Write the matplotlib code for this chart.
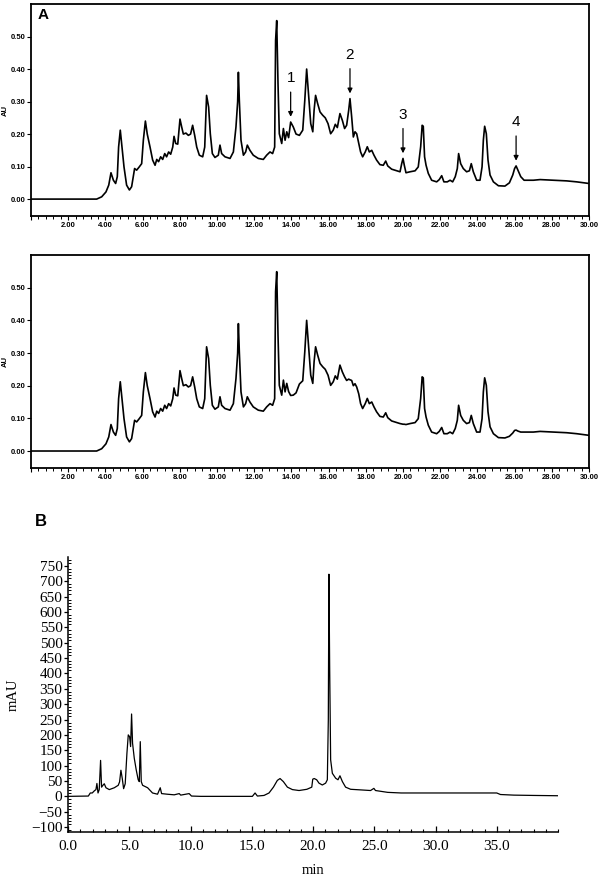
import matplotlib.pyplot as plt
from matplotlib.ticker import MultipleLocator, FormatStrFormatter, FuncFormatter

# ===============================
# Data
# ===============================

# panel A: retention time (min) and absorbance (AU), two runs
a_time = [0.00, 3.53, 3.80, 4.03, 4.18, 4.30, 4.43, 4.55, 4.64, 4.71,
          4.80, 4.89, 5.00, 5.14, 5.29, 5.41, 5.50, 5.57, 5.68, 5.82,
          5.95, 6.04, 6.15, 6.25, 6.40, 6.54, 6.67, 6.76, 6.86, 6.97,
          7.08, 7.19, 7.29, 7.40, 7.51, 7.62, 7.69, 7.78, 7.89, 8.01,
          8.10, 8.19, 8.33, 8.46, 8.58, 8.69, 8.80, 8.91, 9.05, 9.23,
          9.34, 9.44, 9.55, 9.64, 9.75, 9.89, 10.07, 10.16, 10.25, 10.43,
          10.70, 10.88, 11.02, 11.11, 11.15, 11.20, 11.29, 11.42, 11.54, 11.63,
          11.77, 11.95, 12.22, 12.49, 12.67, 12.85, 12.99, 13.10, 13.15, 13.21,
          13.28, 13.35, 13.48, 13.57, 13.66, 13.75, 13.85, 13.96, 14.10, 14.25,
          14.43, 14.61, 14.72, 14.82, 14.93, 15.04, 15.15, 15.22, 15.30, 15.41,
          15.54, 15.68, 15.82, 15.97, 16.11, 16.25, 16.36, 16.47, 16.61, 16.74,
          16.86, 16.97, 17.08, 17.15, 17.24, 17.33, 17.42, 17.51, 17.62, 17.72,
          17.83, 17.97, 18.08, 18.19, 18.32, 18.44, 18.58, 18.76, 18.94, 19.07,
          19.18, 19.39, 19.66, 19.84, 19.93, 20.00, 20.07, 20.16, 20.38, 20.65,
          20.82, 20.95, 21.03, 21.09, 21.16, 21.24, 21.36, 21.54, 21.81, 21.95,
          22.08, 22.20, 22.38, 22.53, 22.67, 22.81, 22.92, 22.99, 23.10, 23.24,
          23.42, 23.57, 23.67, 23.78, 23.96, 24.14, 24.25, 24.32, 24.39, 24.48,
          24.57, 24.68, 24.86, 25.13, 25.48, 25.72, 25.90, 26.00, 26.08, 26.18,
          26.33, 26.51, 27.01, 27.37, 28.08, 28.80, 29.34, 30.00]

a_top = [0.000, 0.000, 0.007, 0.022, 0.043, 0.081, 0.058, 0.048, 0.069, 0.160,
         0.212, 0.160, 0.099, 0.043, 0.028, 0.038, 0.069, 0.094, 0.089, 0.099,
         0.109, 0.181, 0.240, 0.200, 0.160, 0.120, 0.104, 0.122, 0.115, 0.130,
         0.122, 0.140, 0.130, 0.145, 0.138, 0.160, 0.193, 0.171, 0.169, 0.246,
         0.222, 0.200, 0.203, 0.196, 0.200, 0.227, 0.196, 0.160, 0.135, 0.130,
         0.160, 0.319, 0.283, 0.201, 0.140, 0.128, 0.135, 0.166, 0.140, 0.130,
         0.125, 0.145, 0.222, 0.299, 0.390, 0.304, 0.181, 0.135, 0.145, 0.166,
         0.150, 0.135, 0.125, 0.122, 0.135, 0.145, 0.140, 0.160, 0.488, 0.549,
         0.355, 0.201, 0.171, 0.217, 0.181, 0.207, 0.189, 0.237, 0.222, 0.200,
         0.196, 0.212, 0.304, 0.400, 0.314, 0.232, 0.207, 0.273, 0.319, 0.294,
         0.268, 0.258, 0.250, 0.232, 0.201, 0.212, 0.230, 0.220, 0.263, 0.242,
         0.217, 0.227, 0.273, 0.309, 0.253, 0.191, 0.207, 0.201, 0.171, 0.145,
         0.130, 0.145, 0.161, 0.145, 0.150, 0.135, 0.120, 0.106, 0.104, 0.117,
         0.102, 0.092, 0.087, 0.084, 0.109, 0.125, 0.104, 0.081, 0.084, 0.087,
         0.099, 0.161, 0.227, 0.224, 0.130, 0.104, 0.079, 0.058, 0.053, 0.060,
         0.072, 0.053, 0.053, 0.058, 0.053, 0.069, 0.094, 0.140, 0.109, 0.094,
         0.084, 0.087, 0.109, 0.084, 0.058, 0.058, 0.099, 0.181, 0.224, 0.201,
         0.120, 0.074, 0.053, 0.041, 0.040, 0.050, 0.074, 0.094, 0.102, 0.089,
         0.069, 0.058, 0.058, 0.060, 0.058, 0.056, 0.053, 0.048]

a_bottom = [0.000, 0.000, 0.007, 0.022, 0.043, 0.081, 0.058, 0.048, 0.069, 0.160,
            0.212, 0.160, 0.099, 0.043, 0.028, 0.038, 0.069, 0.094, 0.089, 0.099,
            0.109, 0.181, 0.240, 0.200, 0.160, 0.120, 0.104, 0.122, 0.115, 0.130,
            0.122, 0.140, 0.130, 0.145, 0.138, 0.160, 0.193, 0.171, 0.169, 0.246,
            0.222, 0.200, 0.203, 0.196, 0.200, 0.227, 0.196, 0.160, 0.135, 0.130,
            0.160, 0.319, 0.283, 0.201, 0.140, 0.128, 0.135, 0.166, 0.140, 0.130,
            0.125, 0.145, 0.222, 0.299, 0.390, 0.304, 0.181, 0.135, 0.145, 0.166,
            0.150, 0.135, 0.125, 0.122, 0.135, 0.145, 0.140, 0.160, 0.488, 0.549,
            0.355, 0.201, 0.171, 0.217, 0.181, 0.207, 0.182, 0.170, 0.171, 0.178,
            0.205, 0.215, 0.304, 0.400, 0.314, 0.232, 0.207, 0.273, 0.319, 0.294,
            0.268, 0.258, 0.250, 0.232, 0.201, 0.212, 0.230, 0.220, 0.263, 0.242,
            0.227, 0.216, 0.220, 0.218, 0.216, 0.200, 0.206, 0.196, 0.175, 0.145,
            0.130, 0.145, 0.161, 0.145, 0.150, 0.135, 0.120, 0.106, 0.104, 0.117,
            0.102, 0.092, 0.087, 0.084, 0.083, 0.082, 0.082, 0.081, 0.084, 0.087,
            0.099, 0.161, 0.227, 0.224, 0.130, 0.104, 0.079, 0.058, 0.053, 0.060,
            0.072, 0.053, 0.053, 0.058, 0.053, 0.069, 0.094, 0.140, 0.109, 0.094,
            0.084, 0.087, 0.109, 0.084, 0.058, 0.058, 0.099, 0.181, 0.224, 0.201,
            0.120, 0.074, 0.053, 0.041, 0.040, 0.045, 0.055, 0.063, 0.064, 0.061,
            0.058, 0.058, 0.058, 0.060, 0.058, 0.056, 0.053, 0.048]

# marked peaks in the upper run
peak_labels = ["1", "2", "3", "4"]
peak_times = [13.96, 17.15, 20.00, 26.08]

# panel B: retention time (min) and signal (mAU)
b_time = [0.00, 1.66, 1.82, 1.98, 2.15, 2.28, 2.36, 2.45, 2.55, 2.66,
          2.74, 2.85, 2.96, 3.10, 3.37, 3.78, 4.10, 4.21, 4.32, 4.43,
          4.54, 4.67, 4.81, 4.92, 5.03, 5.11, 5.19, 5.27, 5.41, 5.57,
          5.73, 5.82, 5.90, 5.98, 6.09, 6.50, 6.90, 7.31, 7.53, 7.64,
          8.10, 8.67, 9.08, 9.20, 9.89, 10.08, 10.84, 15.05, 15.27, 15.46,
          16.00, 16.41, 16.77, 17.09, 17.31, 17.58, 17.91, 18.32, 18.86, 19.50,
          19.90, 19.98, 20.10, 20.30, 20.49, 20.76, 21.03, 21.17, 21.25, 21.30,
          21.36, 21.44, 21.58, 21.85, 22.04, 22.20, 22.40, 22.66, 23.07, 23.90,
          24.70, 24.97, 25.10, 26.10, 27.20, 29.30, 35.00, 35.30, 36.40, 38.00,
          40.00]

b_mau = [0, 1, 11, 11, 18, 22, 42, 11, 22, 117,
         30, 36, 41, 28, 22, 28, 36, 47, 85, 58,
         25, 41, 140, 200, 194, 162, 268, 173, 124, 86,
         54, 48, 178, 48, 36, 28, 11, 7, 28, 9,
         7, 5, 9, 4, 9, 1, 0, 0, 11, 1,
         3, 11, 30, 52, 58, 48, 30, 22, 19, 23,
         30, 56, 58, 54, 43, 37, 43, 54, 249, 723,
         422, 119, 75, 59, 54, 67, 48, 30, 23, 21,
         19, 26, 19, 13, 11, 11, 11, 6, 4, 3,
         2]

plt.rcParams["font.family"] = ["Liberation Sans", "DejaVu Sans"]
fig = plt.figure(figsize=(6, 8.82), dpi=100)


# ===============================
# Panel A (two runs, same axes style)
# ===============================

def panel_a(rect, values):
    ax = fig.add_axes(rect)
    ax.plot(a_time, values, color="black", lw=1.2)
    ax.set_xlim(0, 30)
    ax.set_ylim(-0.052, 0.60)
    ax.xaxis.set_major_locator(MultipleLocator(2))
    ax.xaxis.set_minor_locator(MultipleLocator(0.4))
    ax.xaxis.set_major_formatter(FuncFormatter(lambda v, p: "" if v == 0 else f"{v:.2f}"))
    ax.set_yticks([0, 0.1, 0.2, 0.3, 0.4, 0.5])
    ax.yaxis.set_major_formatter(FormatStrFormatter("%.2f"))
    ax.tick_params(labelsize=5.5, width=0.8, length=3, pad=1)
    ax.tick_params(which="minor", width=0.7, length=1.8)
    for lab in ax.get_xticklabels() + ax.get_yticklabels():
        lab.set_fontweight("bold")
    ax.set_ylabel("AU", fontsize=5.5, fontweight="bold", labelpad=1)
    for s in ax.spines.values():
        s.set_linewidth(1.3)
    return ax


ax1 = panel_a([31 / 600, 1 - 216 / 882, 558 / 600, 212 / 882], a_top)
ax1.text(0.011, 0.946, "A", transform=ax1.transAxes, fontsize=11,
         fontweight="bold", va="center", ha="left")
for lab, t in zip(peak_labels, peak_times):
    v = a_top[a_time.index(t)]
    ax1.annotate(lab, xy=(t, v + 0.016), xytext=(t, v + 0.135),
                 ha="center", va="center", fontsize=11,
                 arrowprops=dict(arrowstyle="-|>", color="black", lw=0.9,
                                 mutation_scale=7, shrinkA=3, shrinkB=0))

ax2 = panel_a([31 / 600, 1 - 468 / 882, 558 / 600, 213 / 882], a_bottom)


# ===============================
# Panel B
# ===============================

serif = ["Liberation Serif", "DejaVu Serif"]
axb = fig.add_axes([68 / 600, 1 - 832 / 882, 490 / 600, 275 / 882])
axb.plot(b_time, b_mau, color="black", lw=0.9)
axb.set_xlim(0, 40)
axb.set_ylim(-116, 779)
axb.spines["top"].set_visible(False)
axb.spines["right"].set_visible(False)
for s in ("left", "bottom"):
    axb.spines[s].set_linewidth(1.1)
axb.set_xticks(range(0, 40, 5))
axb.xaxis.set_minor_locator(MultipleLocator(1))
axb.xaxis.set_major_formatter(FormatStrFormatter("%.1f"))
axb.set_yticks(range(-100, 800, 50))
axb.yaxis.set_minor_locator(MultipleLocator(10))
axb.tick_params(axis="x", which="major", direction="in", length=4, width=0.9, pad=6)
axb.tick_params(axis="x", which="minor", direction="in", length=2.5, width=0.8)
axb.tick_params(axis="y", which="major", direction="out", length=3, width=0.9, pad=1)
axb.tick_params(axis="y", which="minor", direction="in", length=2.2, width=0.7)
for lab in axb.get_xticklabels() + axb.get_yticklabels():
    lab.set_family(serif)
    lab.set_fontsize(11)
axb.set_xlabel("min", family=serif, fontsize=10.5, labelpad=8)
axb.set_ylabel("mAU", family=serif, fontsize=10.5, labelpad=8)
fig.text(35 / 600, 1 - 522 / 882, "B", fontsize=12, fontweight="bold",
         va="center", ha="left")

fig.savefig("out.png", dpi=100)
